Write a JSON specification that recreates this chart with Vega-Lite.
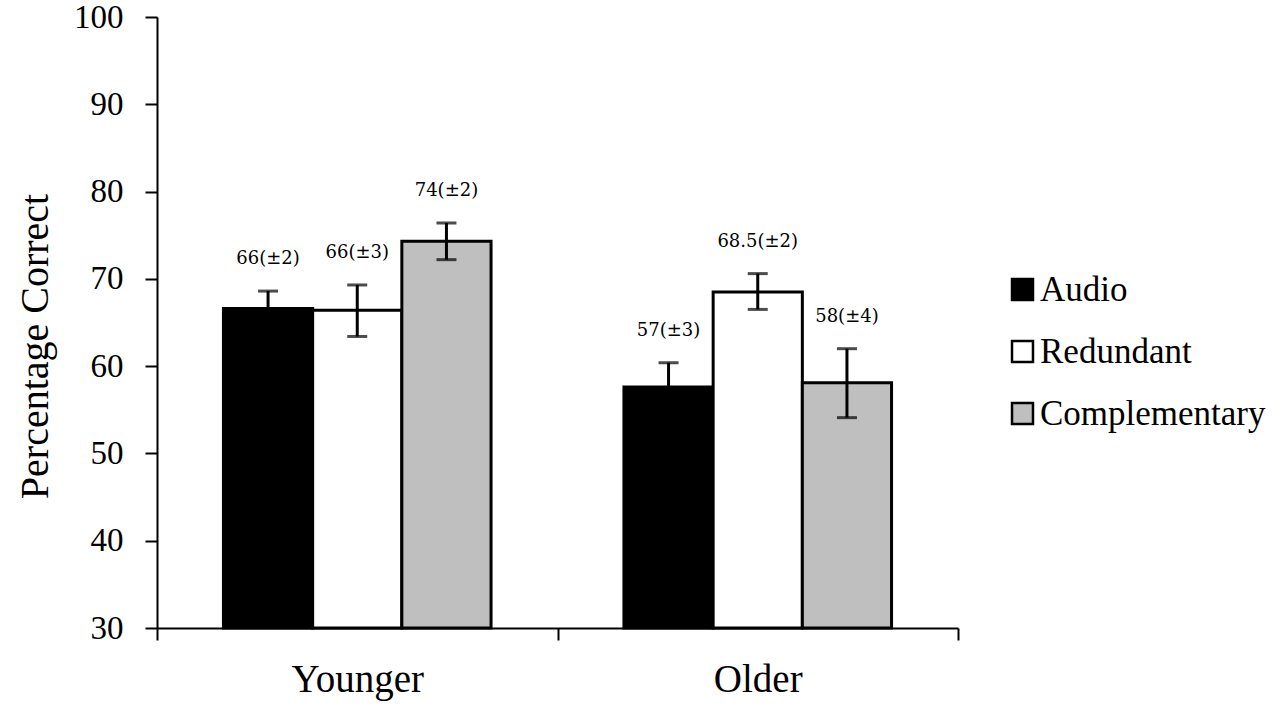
{
  "$schema": "https://vega.github.io/schema/vega-lite/v6.json",
  "width": 801,
  "height": 611,
  "autosize": {"type": "none"},
  "padding": {"left": 157, "top": 17, "right": 324, "bottom": 81},
  "background": "white",
  "config": {"view": {"stroke": null}},
  "data": {
    "values": [
      {"group": "Younger", "condition": "Audio", "mean": 66.6, "lo": 64.6, "hi": 68.6, "label": "66(±2)"},
      {"group": "Younger", "condition": "Redundant", "mean": 66.4, "lo": 63.4, "hi": 69.3, "label": "66(±3)"},
      {"group": "Younger", "condition": "Complementary", "mean": 74.3, "lo": 72.2, "hi": 76.4, "label": "74(±2)"},
      {"group": "Older", "condition": "Audio", "mean": 57.6, "lo": 54.8, "hi": 60.4, "label": "57(±3)"},
      {"group": "Older", "condition": "Redundant", "mean": 68.5, "lo": 66.5, "hi": 70.6, "label": "68.5(±2)"},
      {"group": "Older", "condition": "Complementary", "mean": 58.1, "lo": 54.1, "hi": 62.0, "label": "58(±4)"}
    ]
  },
  "encoding": {
    "x": {
      "field": "group",
      "type": "nominal",
      "sort": ["Younger", "Older"],
      "scale": {"paddingInner": 0, "paddingOuter": 0},
      "axis": {
        "title": null,
        "labelAngle": 0,
        "labelFont": "Liberation Serif",
        "labelFontSize": 39,
        "labelColor": "black",
        "labelPadding": 20,
        "tickBand": "extent",
        "tickSize": 12,
        "tickWidth": 2,
        "tickColor": "black",
        "domainColor": "black",
        "domainWidth": 2
      }
    },
    "xOffset": {
      "field": "condition",
      "type": "nominal",
      "sort": ["Audio", "Redundant", "Complementary"],
      "scale": {"paddingInner": 0, "paddingOuter": 0.745}
    }
  },
  "layer": [
    {
      "mark": {"type": "bar", "stroke": "black", "strokeWidth": 3},
      "encoding": {
        "y": {
          "field": "mean",
          "type": "quantitative",
          "scale": {"domain": [30, 100], "zero": false, "nice": false},
          "axis": {
            "title": "Percentage Correct",
            "titleFont": "Liberation Serif",
            "titleFontSize": 40,
            "titleFontWeight": "normal",
            "titleColor": "black",
            "titlePadding": 18,
            "titleY": 329,
            "values": [30, 40, 50, 60, 70, 80, 90, 100],
            "grid": false,
            "labelFont": "Liberation Serif",
            "labelFontSize": 33,
            "labelColor": "black",
            "labelPadding": 22,
            "tickSize": 12,
            "tickWidth": 2,
            "tickColor": "black",
            "domainColor": "black",
            "domainWidth": 2
          }
        },
        "y2": {"datum": 30},
        "color": {
          "field": "condition",
          "type": "nominal",
          "sort": ["Audio", "Redundant", "Complementary"],
          "scale": {"domain": ["Audio", "Redundant", "Complementary"], "range": ["black", "white", "#bfbfbf"]},
          "legend": {
            "title": null,
            "orient": "none",
            "legendX": 848,
            "legendY": 255,
            "symbolType": "square",
            "symbolSize": 440,
            "symbolStrokeColor": "black",
            "symbolStrokeWidth": 2.5,
            "labelFont": "Liberation Serif",
            "labelFontSize": 35,
            "labelColor": "black",
            "labelOffset": 0,
            "labelLimit": 400,
            "rowPadding": 26,
            "padding": 0
          }
        }
      }
    },
    {
      "mark": {"type": "rule", "color": "black", "strokeWidth": 3},
      "encoding": {
        "y": {"field": "lo", "type": "quantitative"},
        "y2": {"field": "hi"}
      }
    },
    {
      "mark": {"type": "tick", "color": "black", "size": 20, "thickness": 3},
      "encoding": {
        "y": {"field": "hi", "type": "quantitative"}
      }
    },
    {
      "mark": {"type": "tick", "color": "black", "size": 20, "thickness": 3},
      "encoding": {
        "y": {"field": "lo", "type": "quantitative"}
      }
    },
    {
      "mark": {"type": "text", "font": "DejaVu Serif", "fontSize": 18, "color": "black", "baseline": "middle", "align": "center", "dy": -32},
      "encoding": {
        "y": {"field": "hi", "type": "quantitative"},
        "text": {"field": "label"}
      }
    }
  ]
}
